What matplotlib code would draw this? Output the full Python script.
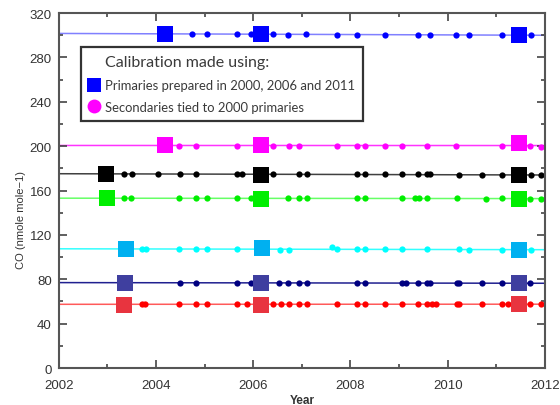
import matplotlib
matplotlib.use("Agg")
from matplotlib import pyplot as plt
from matplotlib.lines import Line2D
from matplotlib.ticker import MultipleLocator
import numpy as np

# primaries (squares) and secondaries (dots) for each cylinder
blue_sq_x = [2004.19, 2006.17, 2011.47]
blue_sq_y = [301, 301, 300]
blue_x = [2004.75, 2005.05, 2005.67, 2005.95, 2006.40, 2006.72, 2007.08, 2007.73,
          2008.13, 2008.71, 2009.39, 2009.63, 2010.17, 2010.44, 2011.12, 2011.71]
blue_y = [301, 301.5, 301, 301, 301, 300.5, 301, 300.5,
          300.5, 300.5, 300, 300, 300.5, 300, 300.5, 300]

mag_sq_x = [2004.18, 2006.16, 2011.47]
mag_sq_y = [201, 201, 202.5]
mag_x = [2004.48, 2004.82, 2005.67, 2006.41, 2006.74, 2006.95, 2007.73, 2008.13,
         2008.30, 2008.71, 2009.06, 2009.58, 2010.17, 2011.12, 2011.70, 2011.91]
mag_y = [200.5, 200.5, 200.5, 200.5, 200.5, 200.5, 200.5, 200.5,
         200.5, 200.5, 200.5, 200, 200.5, 200.5, 200.5, 199.5]

blk_sq_x = [2002.98, 2006.17, 2011.47]
blk_sq_y = [175, 174, 174]
blk_x = [2003.34, 2003.50, 2004.04, 2004.49, 2004.83, 2005.67, 2005.77, 2006.41,
         2006.95, 2007.11, 2008.13, 2008.30, 2008.71, 2009.06, 2009.39, 2009.58,
         2009.63, 2010.24, 2010.70, 2011.12, 2011.71, 2011.91]
blk_y = [175, 175, 175, 175, 175, 174.5, 175, 174.5,
         174.5, 174.5, 174.5, 174.5, 174.5, 174.5, 174.5, 174.5,
         174.5, 174, 174, 174, 174, 174]

grn_sq_x = [2002.99, 2006.17, 2011.47]
grn_sq_y = [153, 152.5, 152.5]
grn_x = [2003.34, 2003.48, 2004.48, 2004.83, 2005.05, 2005.67, 2005.95, 2006.72,
         2006.95, 2007.11, 2008.13, 2008.30, 2009.06, 2009.33, 2009.41, 2009.58,
         2010.20, 2010.79, 2011.12, 2011.70, 2011.91]
grn_y = [153, 153, 153, 153, 153, 153, 153, 153,
         153, 153, 153, 153, 153, 153, 153, 153,
         153, 152.5, 153, 152.5, 152.5]

cyn_sq_x = [2003.38, 2006.19, 2011.47]
cyn_sq_y = [107, 108, 106]
cyn_x = [2003.71, 2003.80, 2004.47, 2004.82, 2005.05, 2005.67, 2006.55, 2006.74,
         2007.62, 2007.73, 2008.13, 2008.30, 2008.71, 2009.06, 2009.58, 2010.24,
         2010.44, 2011.12, 2011.72]
cyn_y = [107, 107, 107, 107.5, 107, 107.5, 106.5, 106.5,
         109.5, 107, 107, 107, 107, 107, 107, 107,
         106.5, 106.5, 106.5]

nav_sq_x = [2003.36, 2006.17, 2011.47]
nav_sq_y = [77, 77, 77]
nav_x = [2004.49, 2004.82, 2005.67, 2005.95, 2006.53, 2006.72, 2006.94, 2007.11,
         2008.13, 2008.30, 2009.06, 2009.15, 2009.39, 2009.58, 2009.63, 2010.20,
         2010.24, 2010.70, 2011.12, 2011.70]
nav_y = [77, 77, 77, 77, 76.5, 76.5, 76.5, 76.5,
         76.5, 76.5, 76.5, 76.5, 76.5, 76.5, 76.5, 76.5,
         76.5, 76.5, 76.5, 76.5]

red_sq_x = [2003.35, 2006.17, 2011.47]
red_sq_y = [57, 57, 58]
red_x = [2003.71, 2003.78, 2004.47, 2004.83, 2005.05, 2005.67, 2005.88, 2006.41,
         2006.57, 2006.74, 2006.95, 2007.11, 2007.73, 2008.13, 2008.30, 2008.71,
         2009.06, 2009.39, 2009.58, 2009.67, 2009.75, 2010.20, 2010.24, 2010.70,
         2011.12, 2011.25, 2011.70, 2011.91]
red_y = [58, 57.5, 57.5, 57.5, 57.5, 57.5, 57.5, 58,
         57.5, 57.5, 57.5, 57.5, 57.5, 57.5, 57.5, 57.5,
         57.5, 57.5, 57.5, 57.5, 57.5, 57.5, 57.5, 57.5,
         57.5, 57.5, 57.5, 57.5]

series = [
    (blue_x, blue_y, blue_sq_x, blue_sq_y, '#0000ff', '#0000ff', '#8080ff'),
    (mag_x, mag_y, mag_sq_x, mag_sq_y, '#ff00ff', '#ff00ff', '#ff33ff'),
    (blk_x, blk_y, blk_sq_x, blk_sq_y, '#000000', '#000000', '#404040'),
    (grn_x, grn_y, grn_sq_x, grn_sq_y, '#00ee00', '#00ee00', '#66ff66'),
    (cyn_x, cyn_y, cyn_sq_x, cyn_sq_y, '#00ffff', '#00b0f0', '#33ffff'),
    (nav_x, nav_y, nav_sq_x, nav_sq_y, '#000080', '#3f3f9f', '#202090'),
    (red_x, red_y, red_sq_x, red_sq_y, '#ff0000', '#e8343f', '#ff5a5a'),
]

plt.rcParams['font.family'] = ['Liberation Sans', 'DejaVu Sans']

fig = plt.figure(figsize=(5.6, 4.06), dpi=100)
ax = fig.add_axes([0.105, 0.091, 0.868, 0.8745])

xlim = (2002, 2012)
for dx, dy, sx, sy, dot_c, sq_c, line_c in series:
    allx = np.array(dx + sx)
    ally = np.array(dy + sy)
    p = np.polyfit(allx, ally, 1)
    xx = np.array(xlim)
    ax.plot(xx, np.polyval(p, xx), color=line_c, lw=1.1, zorder=1)
    ax.plot(dx, dy, 'o', color=dot_c, ms=4.5, mew=0, zorder=2)
    ax.plot(sx, sy, 's', color=sq_c, ms=11, mew=0, zorder=3)

ax.set_xlim(*xlim)
ax.set_ylim(0, 320)
ax.xaxis.set_major_locator(MultipleLocator(2))
ax.xaxis.set_minor_locator(MultipleLocator(1))
ax.yaxis.set_major_locator(MultipleLocator(40))
ax.yaxis.set_minor_locator(MultipleLocator(20))
ax.tick_params(which='both', direction='in', top=True, right=True,
               colors='#444444', labelcolor='#333333', labelsize=9.5, width=1.2)
ax.tick_params(which='major', length=6)
ax.tick_params(which='minor', length=3)
ax.tick_params(axis='x', pad=8)
ax.tick_params(axis='y', pad=5)
for s in ax.spines.values():
    s.set_color('#555555')
    s.set_linewidth(1.5)

ax.set_xlabel('Year', fontsize=8.5, fontweight='bold', color='#333333', labelpad=2)
ax.set_ylabel('CO (nmole mole\u22121)', fontsize=8, color='#333333')
ax.yaxis.set_label_coords(-0.068, 0.42)

handles = [
    Line2D([], [], linestyle='none'),
    Line2D([], [], linestyle='none', marker='s', color='#0000ff', ms=10, mew=0),
    Line2D([], [], linestyle='none', marker='o', color='#ff00ff', ms=10, mew=0),
]
labels = ['Calibration made using:',
          'Primaries prepared in 2000, 2006 and 2011',
          'Secondaries tied to 2000 primaries']
leg = ax.legend(handles, labels, loc='upper left', bbox_to_anchor=(0.045, 0.903),
                fancybox=False, edgecolor='#333333', framealpha=1,
                prop={'family': 'Lato', 'size': 9.4}, handlelength=0.8,
                handletextpad=0.45, borderpad=0.6, labelspacing=0.75,
                borderaxespad=0)
leg.get_frame().set_linewidth(1.6)
txts = leg.get_texts()
for t in txts:
    t.set_color('#3a3a3a')
txts[0].set_fontsize(11.5)

fig.savefig('out.png', dpi=100)
